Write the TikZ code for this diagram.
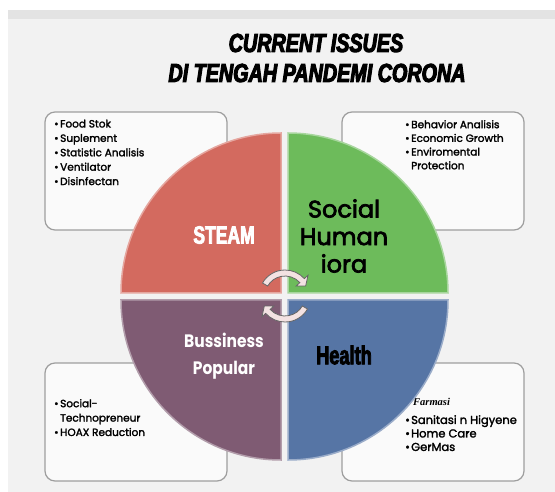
\documentclass[tikz,border=0pt]{standalone}
\usepackage{fontspec}
\setmainfont{Poppins}
\newfontfamily\listfont[FakeBold=2]{Poppins}
\newfontfamily\socfont[FakeBold=3]{Poppins}
\newfontfamily\busifont[FakeStretch=0.86]{Poppins}
\newfontfamily\impactfont[FakeStretch=0.7,FakeBold=3]{Liberation Sans}
\newfontfamily\titlefont[FakeStretch=0.76,FakeBold=4]{Liberation Sans}
\newfontfamily\farmfont{Liberation Serif}
\definecolor{steamred}{HTML}{D36A5F}
\definecolor{socgreen}{HTML}{6DBB5B}
\definecolor{healthblue}{HTML}{5675A5}
\definecolor{busipurple}{HTML}{7F5B73}
\definecolor{bandgray}{HTML}{E3E3E3}
\definecolor{pagegray}{HTML}{F2F2F2}
\definecolor{boxline}{HTML}{9E9E9E}
\definecolor{arrowfill}{HTML}{F3E2E2}
\newcommand\bul{\makebox[6pt][l]{•}}
\begin{document}
\begin{tikzpicture}[x=1pt, y=-1pt,
  issuebox/.style={draw=boxline, fill=white!98!black, line width=1.2pt, rounded corners=10pt, minimum width=182pt, minimum height=118pt},
  quad/.style={line width=1.5pt},
  itemtext/.style={anchor=north west, align=left, inner sep=0pt, font=\listfont\fontsize{10.5}{14.4}\selectfont},
  cycarrow/.style={fill=arrowfill, draw=black!60, line width=0.8pt}]
  \useasboundingbox (0,0) rectangle (555,492);
  \fill[bandgray] (8,10) rectangle (555,19);
  \fill[pagegray] (8,19) rectangle (555,492);
  % title
  \node[font=\titlefont\bfseries\itshape\fontsize{26}{30}\selectfont] (title1) at (316,43) {CURRENT ISSUES};
  \node[font=\titlefont\bfseries\itshape\fontsize{26}{30}\selectfont] (title2) at (317,73) {DI TENGAH PANDEMI CORONA};
  % boxes
  \node[issuebox] (steambox) at (136,171) {};
  \node[issuebox] (socbox) at (433,171) {};
  \node[issuebox] (busibox) at (136,422) {};
  \node[issuebox] (healthbox) at (433,422) {};
  \node[itemtext] (steamlist) at (54,119.5) {\bul Food Stok\\ \bul Suplement\\ \bul Statistic Analisis\\ \bul Ventilator\\ \bul Disinfectan};
  \node[itemtext, font=\listfont\fontsize{10.5}{13.7}\selectfont] (soclist) at (405,120) {\bul Behavior Analisis\\ \bul Economic Growth\\ \bul Enviromental\\ \hphantom{\bul}Protection};
  \node[itemtext] (busilist) at (54,399) {\bul Social-\\ \hphantom{\bul}Technopreneur\\ \bul HOAX Reduction};
  \node[itemtext, font=\farmfont\bfseries\itshape\fontsize{10.5}{12}\selectfont] (farmasi) at (413,398) {Farmasi};
  \node[itemtext, font=\listfont\fontsize{11.5}{13.5}\selectfont] (healthlist) at (405,415) {\bul Sanitasi n Higyene\\ \bul Home Care\\ \bul GerMas};
  % pie
  \foreach \cx/\cy/\a/\col in {281/293/180/steamred, 288/293/270/socgreen, 288/300/0/healthblue, 281/300/90/busipurple}
    \filldraw[quad, fill=\col, draw=\col!60!white] (\cx,\cy) -- ++(\a:160) arc[start angle=\a, delta angle=90, radius=160] -- cycle;
  \node[font=\impactfont\bfseries\fontsize{25}{28}\selectfont, text=white] (steam) at (224,235) {STEAM};
  \node[font=\socfont\fontsize{24}{27.5}\selectfont, align=center] (social) at (344,236) {Social\\Human\\iora};
  \node[font=\busifont\bfseries\fontsize{18}{27}\selectfont, text=white, align=center] (busi) at (224,356) {Bussiness\\Popular};
  \node[font=\impactfont\bfseries\fontsize{26}{28}\selectfont] (health) at (344,355) {Health};
  % cycle arrows
  \begin{scope}[shift={(285,296)}]
    \filldraw[cycarrow] (210:26) arc[start angle=210, end angle=318, radius=26] -- (318:31) -- (334:23) -- (318:15) -- (318:20) arc[start angle=318, end angle=210, radius=20] -- cycle;
    \filldraw[cycarrow] (30:26) arc[start angle=30, end angle=138, radius=26] -- (138:31) -- (154:23) -- (138:15) -- (138:20) arc[start angle=138, end angle=30, radius=20] -- cycle;
  \end{scope}
\end{tikzpicture}
\end{document}
